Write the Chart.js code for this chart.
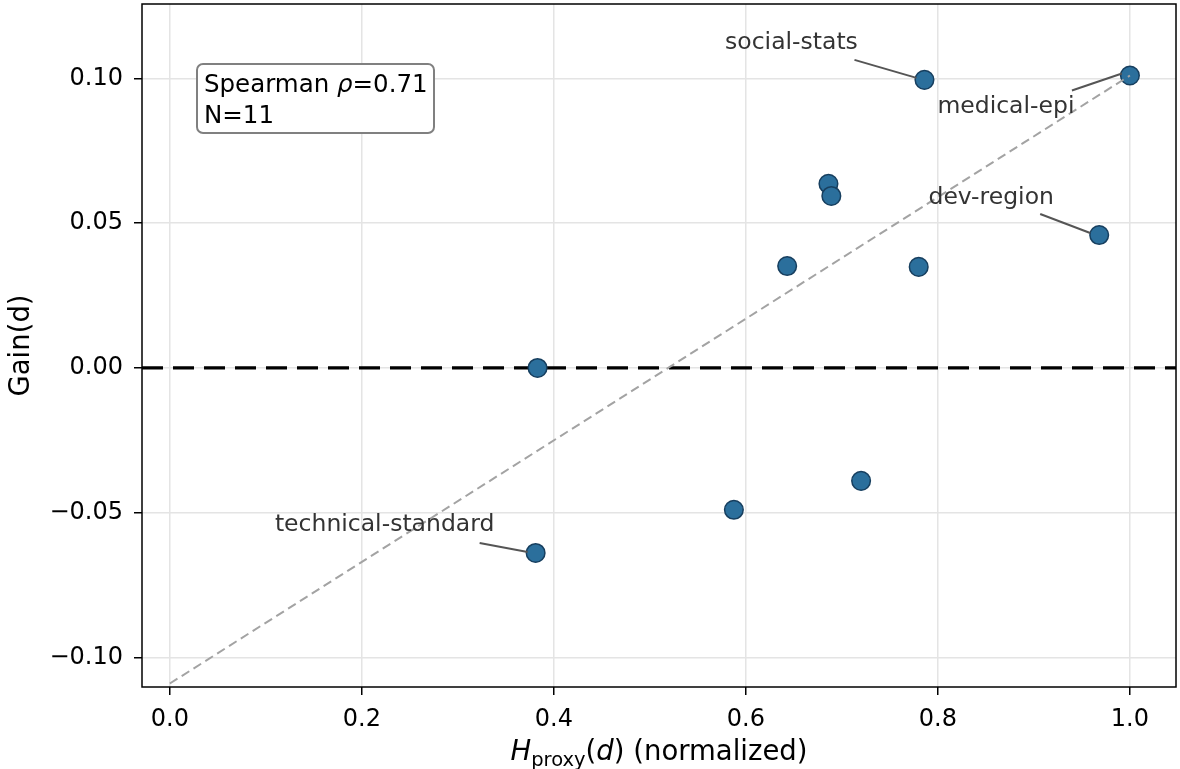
<!DOCTYPE html>
<html>
<head>
<meta charset="utf-8">
<script src="https://cdn.jsdelivr.net/npm/chart.js@4"></script>
<style>
    html, body { margin: 0; padding: 0; background: #fff; }
    #wrap { width: 1180px; height: 769px; }
</style>
</head>
<body>
<div id="wrap"><canvas id="chart" width="1180" height="769"></canvas></div>
<script>
// per-domain entropy proxy vs. gain
const domains = ['medical-epi', 'social-stats', 'd3', 'd4', 'dev-region', 'd6', 'd7', 'd8', 'd9', 'd10', 'technical-standard'];
const hProxy = [1.0, 0.786, 0.686, 0.689, 0.968, 0.643, 0.780, 0.383, 0.720, 0.5875, 0.381];
const gain = [0.101, 0.0995, 0.0636, 0.0594, 0.0459, 0.0352, 0.0349, 0.0, -0.039, -0.049, -0.0639];
const labelled = ['medical-epi', 'social-stats', 'dev-region', 'technical-standard'];

// least-squares trend line end points
const fitX = [0.0, 1.0];
const fitY = [-0.109, 0.101];

const xTicks = [0.0, 0.2, 0.4, 0.6, 0.8, 1.0];
const yTicks = [-0.10, -0.05, 0.00, 0.05, 0.10];
const spearman = '0.71';

// where each label sits relative to its point (px), and the leader line
const labelStyle = {
    'social-stats':       { dx: -133, dy: -37, from: [-70, -20], to: [-8, -2] },
    'medical-epi':        { dx: -124, dy: 31,  from: [-58, 15],  to: [-8, -2] },
    'dev-region':         { dx: -108, dy: -37, from: [-59, -21], to: [-9, -2] },
    'technical-standard': { dx: -151, dy: -28, from: [-56, -10], to: [-8, -1] }
};

const FONT = 'DejaVu Sans';

const overlay = {
    id: 'overlay',
    beforeDatasetsDraw(chart) {
        const {ctx, chartArea, scales: {y}} = chart;
        // horizontal reference at zero
        const y0 = y.getPixelForValue(0);
        ctx.save();
        ctx.strokeStyle = '#000';
        ctx.lineWidth = 3.2;
        ctx.setLineDash([21, 10]);
        ctx.beginPath();
        ctx.moveTo(chartArea.left, y0);
        ctx.lineTo(chartArea.right, y0);
        ctx.stroke();
        ctx.restore();
    },
    afterDraw(chart) {
        const {ctx, chartArea, scales: {x, y}} = chart;
        ctx.save();

        // frame
        ctx.strokeStyle = '#000';
        ctx.lineWidth = 1.5;
        ctx.strokeRect(chartArea.left, chartArea.top, chartArea.right - chartArea.left, chartArea.bottom - chartArea.top);

        // point labels
        ctx.font = '23.5px "' + FONT + '"';
        ctx.textAlign = 'center';
        ctx.textBaseline = 'middle';
        domains.forEach((d, i) => {
            if (!labelled.includes(d)) return;
            const s = labelStyle[d];
            const px = x.getPixelForValue(hProxy[i]);
            const py = y.getPixelForValue(gain[i]);
            ctx.strokeStyle = '#555';
            ctx.lineWidth = 2;
            ctx.beginPath();
            ctx.moveTo(px + s.from[0], py + s.from[1]);
            ctx.lineTo(px + s.to[0], py + s.to[1]);
            ctx.stroke();
            ctx.fillStyle = '#333';
            ctx.fillText(d, px + s.dx, py + s.dy);
        });

        // stats box
        const bx = chartArea.left + 55, by = chartArea.top + 60, bw = 237, bh = 69;
        ctx.beginPath();
        ctx.roundRect(bx, by, bw, bh, 6);
        ctx.fillStyle = '#fff';
        ctx.fill();
        ctx.strokeStyle = '#808080';
        ctx.lineWidth = 2;
        ctx.stroke();
        ctx.fillStyle = '#000';
        ctx.textAlign = 'left';
        ctx.textBaseline = 'alphabetic';
        let tx = bx + 7;
        const l1 = by + 28;
        ctx.font = '24.5px "' + FONT + '"';
        ctx.fillText('Spearman ', tx, l1);
        tx += ctx.measureText('Spearman ').width;
        ctx.font = 'italic 24.5px "' + FONT + '"';
        ctx.fillText('\u03c1', tx, l1);
        tx += ctx.measureText('\u03c1').width;
        ctx.font = '24.5px "' + FONT + '"';
        ctx.fillText('=' + spearman, tx, l1);
        ctx.fillText('N=' + hProxy.length, bx + 7, by + 59);

        // x axis title: H_proxy(d) (normalized)
        const parts = [
            {t: 'H', f: 'italic 27.5px', dy: 0},
            {t: 'proxy', f: '19.5px', dy: 6},
            {t: '(', f: '27.5px', dy: 0},
            {t: 'd', f: 'italic 27.5px', dy: 0},
            {t: ') (normalized)', f: '27.5px', dy: 0}
        ];
        let total = 0;
        parts.forEach(p => { ctx.font = p.f + ' "' + FONT + '"'; p.w = ctx.measureText(p.t).width; total += p.w; });
        let cx = (chartArea.left + chartArea.right) / 2 - total / 2;
        const base = 760;
        ctx.fillStyle = '#000';
        parts.forEach(p => {
            ctx.font = p.f + ' "' + FONT + '"';
            ctx.fillText(p.t, cx, base + p.dy);
            cx += p.w;
        });

        // y axis title
        ctx.translate(22, (chartArea.top + chartArea.bottom) / 2);
        ctx.rotate(-Math.PI / 2);
        ctx.textAlign = 'center';
        ctx.textBaseline = 'middle';
        ctx.font = '27.5px "' + FONT + '"';
        ctx.fillText('Gain(d)', 0, 0);
        ctx.restore();
    }
};

const fmtY = v => (v < -1e-9 ? '\u2212' : '') + Math.abs(v).toFixed(2);

new Chart(document.getElementById('chart'), {
    type: 'scatter',
    data: {
        datasets: [{
            type: 'line',
            data: fitX.map((v, i) => ({x: v, y: fitY[i]})),
            borderColor: '#a3a3a3',
            borderWidth: 2,
            borderDash: [9, 5],
            pointRadius: 0,
            fill: false
        }, {
            data: hProxy.map((v, i) => ({x: v, y: gain[i]})),
            backgroundColor: '#2b6f9c',
            borderColor: '#173f5f',
            borderWidth: 1.5,
            pointRadius: 9.3,
            pointHoverRadius: 9.3
        }]
    },
    options: {
        responsive: false,
        animation: false,
        layout: { autoPadding: false, padding: { top: 4, right: 4, left: 0, bottom: 0 } },
        plugins: { legend: { display: false }, tooltip: { enabled: false } },
        scales: {
            x: {
                type: 'linear',
                min: -0.029,
                max: 1.048,
                afterBuildTicks: s => { s.ticks = xTicks.map(v => ({value: v})); },
                afterFit: s => { s.height = 82; s.paddingLeft = 0; s.paddingRight = 0; },
                border: { display: false },
                grid: { color: '#e4e4e4', lineWidth: 1.5, tickColor: '#000', tickLength: 8, tickWidth: 1.5 },
                ticks: {
                    color: '#000',
                    font: { family: FONT, size: 24 },
                    padding: 10,
                    maxRotation: 0,
                    callback: v => v.toFixed(1)
                }
            },
            y: {
                type: 'linear',
                min: -0.1102,
                max: 0.1257,
                afterBuildTicks: s => { s.ticks = yTicks.map(v => ({value: v})); },
                afterFit: s => { s.width = 142; s.paddingTop = 0; s.paddingBottom = 0; },
                border: { display: false },
                grid: { color: '#e4e4e4', lineWidth: 1.5, tickColor: '#000', tickLength: 8, tickWidth: 1.5 },
                ticks: {
                    color: '#000',
                    font: { family: FONT, size: 24 },
                    padding: 11,
                    callback: fmtY
                }
            }
        }
    },
    plugins: [overlay]
});
</script>
</body>
</html>
